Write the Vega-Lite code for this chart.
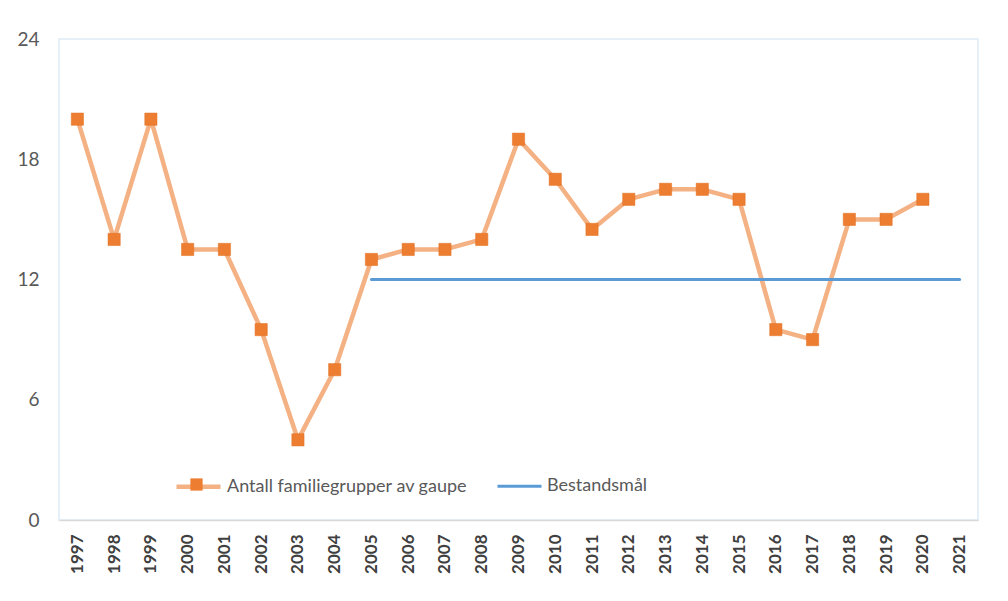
{
  "$schema": "https://vega.github.io/schema/vega-lite/v6.json",
  "width": 919,
  "height": 481,
  "autosize": {"type": "none"},
  "padding": {"left": 59, "top": 39, "right": 30, "bottom": 81},
  "background": "white",
  "config": {
    "view": {"stroke": "#DDEBF7", "strokeWidth": 1.5},
    "font": "Lato"
  },
  "data": {
    "values": [
      {"year": "1997", "value": 20, "series": "Antall familiegrupper av gaupe"},
      {"year": "1998", "value": 14, "series": "Antall familiegrupper av gaupe"},
      {"year": "1999", "value": 20, "series": "Antall familiegrupper av gaupe"},
      {"year": "2000", "value": 13.5, "series": "Antall familiegrupper av gaupe"},
      {"year": "2001", "value": 13.5, "series": "Antall familiegrupper av gaupe"},
      {"year": "2002", "value": 9.5, "series": "Antall familiegrupper av gaupe"},
      {"year": "2003", "value": 4, "series": "Antall familiegrupper av gaupe"},
      {"year": "2004", "value": 7.5, "series": "Antall familiegrupper av gaupe"},
      {"year": "2005", "value": 13, "series": "Antall familiegrupper av gaupe"},
      {"year": "2006", "value": 13.5, "series": "Antall familiegrupper av gaupe"},
      {"year": "2007", "value": 13.5, "series": "Antall familiegrupper av gaupe"},
      {"year": "2008", "value": 14, "series": "Antall familiegrupper av gaupe"},
      {"year": "2009", "value": 19, "series": "Antall familiegrupper av gaupe"},
      {"year": "2010", "value": 17, "series": "Antall familiegrupper av gaupe"},
      {"year": "2011", "value": 14.5, "series": "Antall familiegrupper av gaupe"},
      {"year": "2012", "value": 16, "series": "Antall familiegrupper av gaupe"},
      {"year": "2013", "value": 16.5, "series": "Antall familiegrupper av gaupe"},
      {"year": "2014", "value": 16.5, "series": "Antall familiegrupper av gaupe"},
      {"year": "2015", "value": 16, "series": "Antall familiegrupper av gaupe"},
      {"year": "2016", "value": 9.5, "series": "Antall familiegrupper av gaupe"},
      {"year": "2017", "value": 9, "series": "Antall familiegrupper av gaupe"},
      {"year": "2018", "value": 15, "series": "Antall familiegrupper av gaupe"},
      {"year": "2019", "value": 15, "series": "Antall familiegrupper av gaupe"},
      {"year": "2020", "value": 16, "series": "Antall familiegrupper av gaupe"},
      {"year": "2005", "value": 12, "series": "Bestandsmål"},
      {"year": "2006", "value": 12, "series": "Bestandsmål"},
      {"year": "2007", "value": 12, "series": "Bestandsmål"},
      {"year": "2008", "value": 12, "series": "Bestandsmål"},
      {"year": "2009", "value": 12, "series": "Bestandsmål"},
      {"year": "2010", "value": 12, "series": "Bestandsmål"},
      {"year": "2011", "value": 12, "series": "Bestandsmål"},
      {"year": "2012", "value": 12, "series": "Bestandsmål"},
      {"year": "2013", "value": 12, "series": "Bestandsmål"},
      {"year": "2014", "value": 12, "series": "Bestandsmål"},
      {"year": "2015", "value": 12, "series": "Bestandsmål"},
      {"year": "2016", "value": 12, "series": "Bestandsmål"},
      {"year": "2017", "value": 12, "series": "Bestandsmål"},
      {"year": "2018", "value": 12, "series": "Bestandsmål"},
      {"year": "2019", "value": 12, "series": "Bestandsmål"},
      {"year": "2020", "value": 12, "series": "Bestandsmål"},
      {"year": "2021", "value": 12, "series": "Bestandsmål"}
    ]
  },
  "encoding": {
    "x": {
      "field": "year",
      "type": "ordinal",
      "scale": {
        "type": "point",
        "padding": 0.5,
        "domain": ["1997","1998","1999","2000","2001","2002","2003","2004","2005","2006","2007","2008","2009","2010","2011","2012","2013","2014","2015","2016","2017","2018","2019","2020","2021"]
      },
      "axis": {
        "title": null,
        "labelAngle": -90,
        "labelAlign": "right",
        "labelBaseline": "middle",
        "labelFontSize": 17,
        "labelFontWeight": "bold",
        "labelColor": "#404040",
        "labelPadding": 14,
        "ticks": false,
        "domainColor": "#D9D9D9",
        "domainWidth": 1.5,
        "grid": false
      }
    },
    "y": {
      "field": "value",
      "type": "quantitative",
      "scale": {"domain": [0, 24], "nice": false},
      "axis": {
        "title": null,
        "values": [0, 6, 12, 18, 24],
        "labelFontSize": 19,
        "labelColor": "#595959",
        "labelPadding": 20,
        "ticks": false,
        "domain": false,
        "grid": false
      }
    }
  },
  "layer": [
    {
      "mark": {"type": "line", "strokeCap": "round", "strokeJoin": "round"},
      "encoding": {
        "color": {
          "field": "series",
          "type": "nominal",
          "scale": {
            "domain": ["Antall familiegrupper av gaupe", "Bestandsmål"],
            "range": ["#F4B183", "#5B9BD5"]
          },
          "legend": {
            "title": null,
            "orient": "none",
            "legendX": 115,
            "legendY": 423,
            "direction": "horizontal",
            "padding": 0,
            "symbolType": "stroke",
            "symbolSize": 1936,
            "symbolStrokeWidth": 3.5,
            "labelFontSize": 18,
            "labelColor": "#595959",
            "labelOffset": 4,
            "labelLimit": 400,
            "columnPadding": 23
          }
        },
        "strokeWidth": {
          "field": "series",
          "type": "nominal",
          "scale": {
            "domain": ["Antall familiegrupper av gaupe", "Bestandsmål"],
            "range": [4.5, 3]
          },
          "legend": null
        }
      }
    },
    {
      "transform": [{"filter": "datum.series === 'Antall familiegrupper av gaupe'"}],
      "mark": {"type": "point", "filled": true, "size": 150, "color": "#ED7D31", "opacity": 1, "stroke": "#E07020", "strokeWidth": 0.5},
      "encoding": {
        "shape": {
          "field": "series",
          "type": "nominal",
          "scale": {"domain": ["Antall familiegrupper av gaupe"], "range": ["square"]},
          "legend": {
            "title": null,
            "orient": "none",
            "legendX": 131,
            "legendY": 439,
            "padding": 0,
            "symbolSize": 150,
            "symbolFillColor": "#ED7D31",
            "symbolStrokeColor": "#E07020",
            "symbolStrokeWidth": 0.5,
            "symbolOpacity": 1,
            "labelExpr": "''",
            "labelFontSize": 1,
            "labelOffset": 0
          }
        }
      }
    }
  ]
}
